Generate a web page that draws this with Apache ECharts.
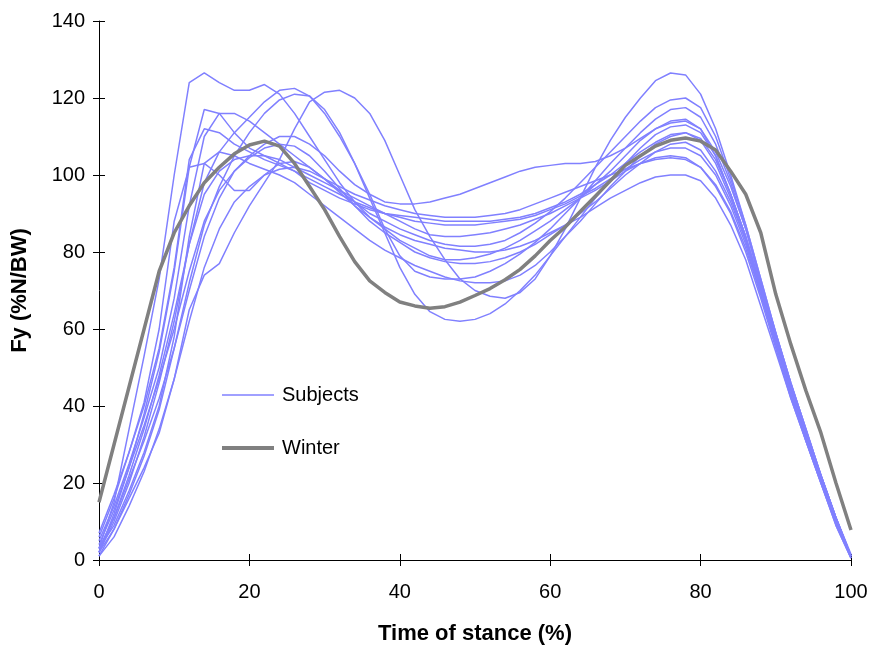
<!DOCTYPE html>
<html><head><meta charset="utf-8">
<script src="https://cdn.jsdelivr.net/npm/echarts@6/dist/echarts.min.js"></script>
<style>html,body{margin:0;padding:0;background:#fff}#c{width:874px;height:647px}</style>
</head><body><div id="c"></div>
<script>
const xs = [0,2,4,6,8,10,12,14,16,18,20,22,24,26,28,30,32,34,36,38,40,42,44,46,48,50,52,54,56,58,60,62,64,66,68,70,72,74,76,78,80,82,84,86,88,90,92,94,96,98,100];
const winter = [15,30,45,60,75,85,92,98,102,105.5,107.8,108.8,107.5,103,97,91,84,77.5,72.5,69.5,67,66,65.4,65.8,67,68.7,70.5,72.8,75.5,79,83,86.5,90.5,94.5,98.5,102.5,105,107.5,109,109.6,108.8,106.5,101,95,85,69,56,44,33,20,7.8];
const s1 = [3,15,34,53,73,100,124,126.5,124,122,122,123.5,121,116,110,104,98,93,89,86,83,81,79,78,78,78.5,79.5,81,83,85.5,88,91,94,97.5,101,105,109,112,114,114.5,112,105,95,84,71,58,45,33,22,11,1];
const s2 = [2,12,24,38,54,75,102,117,116,111,107,105,103,101,98,96,94,92.5,91,90,89.5,89,88.5,88,88,88,88,88.5,89,90,91.5,93,95,97.5,100,103,106,108.5,110.5,111,109,103,94,83,70,57,44,32,21,10,1];
const s3 = [5,14,25,37,50,68,92,110,116,116,114,111,108,105,102,99,96,93,90,88,86,84.5,83,82,81.5,81.5,82,83,85,87.5,90.5,94,98,102,106,110,114,117.5,119.5,120,117.5,110,99,87,73,59,46,34,22,11,1];
const s4 = [2,10,20,32,46,62,82,98,106,111,115,119,122,122.5,120.5,116,110,103,95,86,79,75,73.5,73,73,73.5,75,77,79.5,82.5,86,90,94,98.5,103,107,111,114.5,117,117.5,115,108,98,86,72,58,45,33,22,11,1.5];
const s5 = [1,8,17,27,39,55,72,87,97,105,111,116,119.5,121,120.5,117,111,103,94,85,76,69,64.5,62.5,62,62.5,64,66.5,70,74,79,84,89,94,98.5,103,107,110.5,112.5,113,111,105,95,84,71,58,45,33,21,10,0.5];
const s6 = [2,8,16,24,33,47,65,74,77,85,92,98,104,112,119,121.5,122,120,116,109,100,91,84,78,73,70,68.5,68,69.5,73,79,86,94,102,109,115,120,124.5,126.5,126,121,112,100,87,73,59,46,34,22,11,1];
const s7 = [6,16,28,40,55,76,104,112,111,108,106,104,102.5,101,99,97,95,93,91.5,90,89,88,87.5,87,87,87,87.5,88,88.5,89.5,91,92.5,94.5,96.5,99,101.5,104,106,107,107,105,100,92,82,69,56,43,31,20,9,0.5];
const s8 = [3,11,21,31,42,55,70,84,94,101,105,108,110,110,108,105,101,97.5,95,93,92.5,92.5,93,94,95,96.5,98,99.5,101,102,102.5,103,103,103.5,105,107,109.5,112,113.5,114,112,106,97,86,72,59,46,34,22,11,1];
const s9 = [4,13,24,35,47,60,75,88,96,101,104.5,107,108,107.5,105,101,96.5,92,88,85,82.5,80,78.5,77.5,77,77,77.5,78.5,80,82,84.5,87,90,93,96.5,100,103,106,108,108.5,106.5,101,93,83,70,57,44,32,21,10,1];
const s10 = [2,11,22,34,48,64,82,95,101,104,105,105,104,102,100,98,96,94,92,90,88,86,84.5,84,84,84.5,85,86,87,88.5,90,92,94,96,98.5,101,103,104.5,105,104.5,102,97,90,80,68,55,42,31,20,9,0.5];
const s11 = [7,17,28,41,60,88,102,103,100,96,96,100,103,103.5,102,99,95.5,92,89,86.5,84.5,83,82,81,80.5,80,80,80.5,81.5,83,85,87,89,91.5,94,96,98,99.5,100,100,98.5,94,87,78,66,54,42,31,20,9.5,1];
const s12 = [3,9,18,28,40,58,84,103,106,105,103,101.5,100,98,95,92,89,86,83,80.5,78.5,76.5,75,73.5,72.5,72,72,72.5,74,76.5,80,84,88,92.5,97,101,105,108,110,111,109.5,104,95,84,71,58,45,33,21,10,1];
const s13 = [1,6,14,23,34,47,62,76,86,93,97,100,101.5,102,101,99,97,95,93.5,92,91,90,89.5,89,89,89,89.5,90,91,92.5,94,95.5,97,98.5,100,101.5,103,104,104.5,104,102,97.5,90.5,81,69,56,43,32,21,10,1];
const subjects = [s1,s2,s3,s4,s5,s6,s7,s8,s9,s10,s11,s12,s13];
const xTicks = [0,20,40,60,80,100];
const yTicks = [0,20,40,60,80,100,120,140];

const pair = arr => xs.map((x,i)=>[x,arr[i]]);
const font = 'Liberation Sans, Arial, sans-serif';
const series = subjects.map(s => ({
  name:'Subjects', type:'line', data:pair(s), symbol:'none', smooth:false,
  lineStyle:{color:'#8080FF', width:1.5}, itemStyle:{color:'#8080FF'}, z:2, silent:true
}));
series.push({name:'Winter', type:'line', data:pair(winter), symbol:'none',
  lineStyle:{color:'#808080', width:3.5}, itemStyle:{color:'#808080'}, z:3, silent:true});

const chart = echarts.init(document.getElementById('c'), null, {renderer:'canvas'});
chart.setOption({
  animation:false,
  backgroundColor:'#fff',
  grid:{left:99, right:23, top:21, bottom:87, containLabel:false, outerBoundsMode:'none'},
  legend:{
    data:[
      {name:'Subjects', lineStyle:{width:1.5, color:'#8080FF'}},
      {name:'Winter', lineStyle:{width:4, color:'#808080'}}
    ],
    orient:'vertical', left:220, top:385, padding:0,
    itemWidth:52, itemHeight:14, itemGap:33,
    itemStyle:{opacity:0},
    textStyle:{fontFamily:font, fontSize:20, color:'#000', padding:[0,0,0,3]}, selectedMode:false
  },
  xAxis:[{
    type:'value', min:0, max:100, interval:20,
    name:'Time of stance (%)', nameLocation:'middle', nameGap:63,
    nameTextStyle:{fontFamily:font, fontSize:22, fontWeight:'bold', color:'#000'},
    axisLine:{show:true, lineStyle:{color:'#000', width:1}},
    axisTick:{show:true, length:6, lineStyle:{color:'#000'}},
    axisLabel:{fontFamily:font, fontSize:20, color:'#000', margin:22},
    splitLine:{show:false}
  },{
    type:'value', min:0, max:100, interval:20, position:'bottom',
    axisLine:{show:false}, axisTick:{show:true, inside:true, length:6, lineStyle:{color:'#000'}},
    axisLabel:{show:false}, splitLine:{show:false}
  }],
  yAxis:[{
    type:'value', min:0, max:140, interval:20,
    name:'Fy (%N/BW)', nameLocation:'middle', nameGap:68, nameRotate:90,
    nameTextStyle:{fontFamily:font, fontSize:22, fontWeight:'bold', color:'#000'},
    axisLine:{show:true, lineStyle:{color:'#000', width:1}},
    axisTick:{show:true, length:6, lineStyle:{color:'#000'}},
    axisLabel:{fontFamily:font, fontSize:20, color:'#000', margin:14},
    splitLine:{show:false}
  },{
    type:'value', min:0, max:140, interval:20, position:'left',
    axisLine:{show:false}, axisTick:{show:true, inside:true, length:6, lineStyle:{color:'#000'}},
    axisLabel:{show:false}, splitLine:{show:false}
  }],
  series: series
});
</script>
</body></html>
